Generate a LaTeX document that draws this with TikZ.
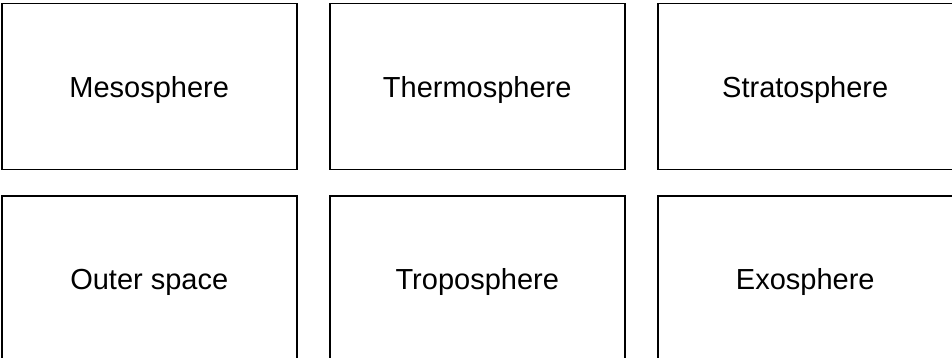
\documentclass[tikz,border=0pt]{standalone}
\usepackage{fontspec}
\setmainfont{Liberation Sans}
\begin{document}
\begin{tikzpicture}[x=1pt,y=-1pt,
  layerbox/.style={draw=black, line width=1.5pt, minimum width=295pt, minimum height=166pt, inner sep=0pt, anchor=north west, text height=21pt, text depth=0pt, font=\fontsize{29}{33}\selectfont}]
\useasboundingbox (0,0) rectangle (952,358);
\clip (0,0) rectangle (952,358);
\node[layerbox] (meso) at (1,3) {Mesosphere};
\node[layerbox] (thermo) at (329,3) {Thermosphere};
\node[layerbox] (strato) at (657,3) {Stratosphere};
\node[layerbox] (outer) at (1,195) {Outer space};
\node[layerbox] (tropo) at (329,195) {Troposphere};
\node[layerbox] (exo) at (657,195) {Exosphere};
\end{tikzpicture}
\end{document}
